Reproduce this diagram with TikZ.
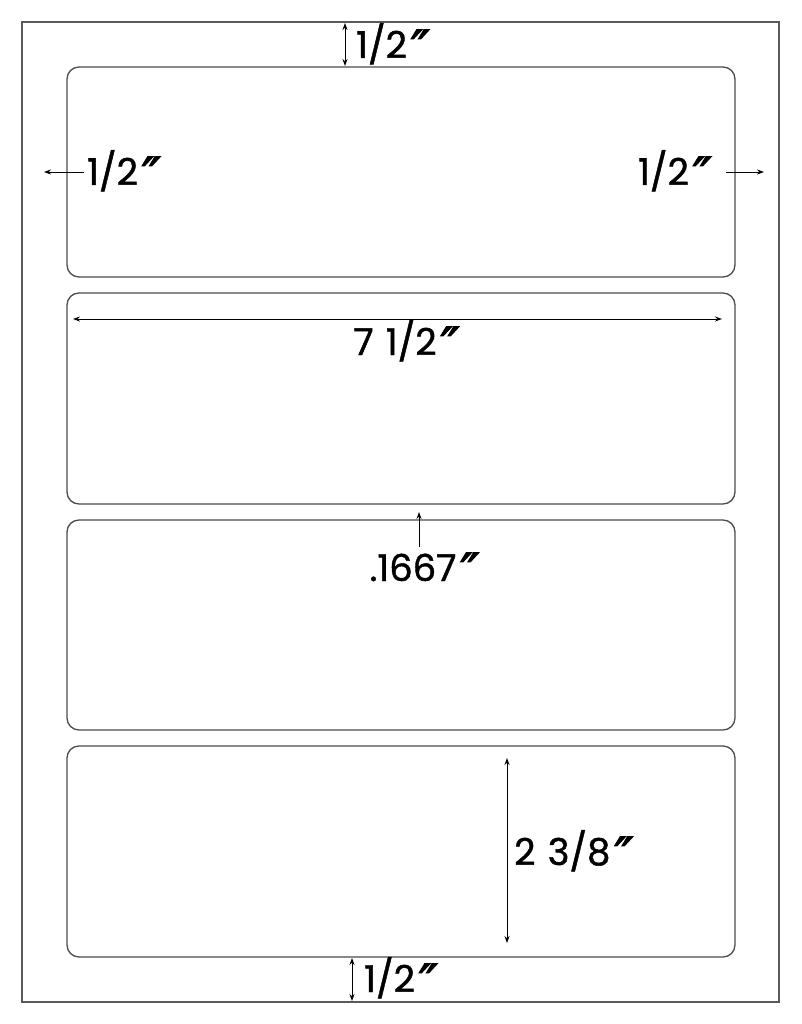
\documentclass[tikz,border=0pt]{standalone}
\usepackage{fontspec}
\setmainfont{Poppins}[FakeBold=1.2]
\newfontfamily\symfont{DejaVu Sans}[FakeSlant=0.15,FakeBold=2.5]
\newcommand{\dq}{\hspace{-0.02em}\raisebox{-0.22em}{\symfont\fontsize{50}{50}\selectfont ″}}
\newcommand{\wsp}{\hspace{0.33em}}
\usetikzlibrary{arrows.meta}
\begin{document}
\begin{tikzpicture}[x=1pt,y=-1pt,
  labelbox/.style={draw=black!70,line width=1.3pt,rounded corners=12pt},
  sheet/.style={draw=black!65,line width=1.3pt},
  dim/.style={line width=0.9pt,-{Stealth[length=7pt,width=5pt]}},
  dimboth/.style={line width=0.9pt,{Stealth[length=7pt,width=5pt]}-{Stealth[length=7pt,width=5pt]}},
  txt/.style={font=\fontsize{37}{39}\selectfont,inner sep=0pt}]
\useasboundingbox (0,0) rectangle (801,1024);
\fill[white] (0,0) rectangle (801,1024);
\draw[sheet] (22,22) rectangle (779,1002);
\draw[labelbox] (67,67) rectangle (735,277);
\draw[labelbox] (67,293) rectangle (735,504);
\draw[labelbox] (67,520) rectangle (735,730);
\draw[labelbox] (67,746) rectangle (735,957);
% top margin
\coordinate (t1) at (345,23);
\coordinate (t2) at (345,66);
\draw[dimboth] (t1) -- (t2);
\node[txt,anchor=base west] (tt) at (356,58) {1/2\dq};
% left margin
\coordinate (l1) at (84,172);
\coordinate (l2) at (44,172);
\draw[dim] (l1) -- (l2);
\node[txt,anchor=base west] (lt) at (87,185) {1/2\dq};
% right margin
\coordinate (r1) at (726,172);
\coordinate (r2) at (764,172);
\draw[dim] (r1) -- (r2);
\node[txt,anchor=base east] (rt) at (707,185) {1/2\dq};
% width
\coordinate (w1) at (73,319);
\coordinate (w2) at (722,319);
\draw[dimboth] (w1) -- (w2);
\node[txt,anchor=base] (wt) at (404,355) {7\wsp1/2\dq};
% gap
\coordinate (g1) at (419,547);
\coordinate (g2) at (419,512);
\draw[dim] (g1) -- (g2);
\node[txt,anchor=base] (gt) at (422,581) {.1667\dq};
% height
\coordinate (h1) at (507,758);
\coordinate (h2) at (507,943);
\draw[dimboth] (h1) -- (h2);
\node[txt,anchor=base west] (ht) at (514,865) {2\wsp3/8\dq};
% bottom margin
\coordinate (b1) at (352,958);
\coordinate (b2) at (352,1001);
\draw[dimboth] (b1) -- (b2);
\node[txt,anchor=base west] (bt) at (364,992) {1/2\dq};
\end{tikzpicture}
\end{document}
